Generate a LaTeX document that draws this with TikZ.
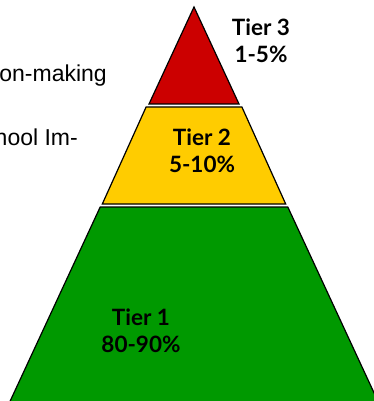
\documentclass[tikz,border=0pt]{standalone}
\usepackage{fontspec}
\setmainfont{Liberation Sans}
\newfontfamily\tierfont{Lato}
\definecolor{tierred}{HTML}{CC0000}
\definecolor{tieryellow}{HTML}{FFCC00}
\definecolor{tiergreen}{HTML}{009900}
\tikzset{
  tierband/.style={draw=black, line width=1.2pt, line join=miter},
  tierlabel/.style={font=\tierfont\bfseries\fontsize{22.5}{27}\selectfont, align=center, inner sep=0pt, text=black},
  sidetext/.style={font=\fontsize{23}{26}\selectfont, inner sep=0pt, anchor=base east}
}
\begin{document}
\begin{tikzpicture}[x=1pt,y=-1pt]
\useasboundingbox (0,0) rectangle (374,401);
% pyramid: apex (194,7), half-slope 0.464
\path[tierband, fill=tiergreen] (100.2,207) -- (287.8,207) -- (382,410) -- (6,410) -- cycle;
\path[tierband, fill=tieryellow] (146.1,107) -- (241.9,107) -- (285.7,204) -- (102.3,204) -- cycle;
\path[tierband, fill=tierred] (194,7) -- (239,104) -- (149,104) -- cycle;
\node[tierlabel, anchor=base] (t3) at (261,63) {Tier 3\\1-5\%};
\node[tierlabel, anchor=base] (t2) at (202,172) {Tier 2\\5-10\%};
\node[tierlabel, anchor=base] (t1) at (141,352) {Tier 1\\80-90\%};
\node[sidetext] (s1) at (107,82) {on-making};
\node[sidetext] (s2) at (78,145) {hool Im-};
\end{tikzpicture}
\end{document}
